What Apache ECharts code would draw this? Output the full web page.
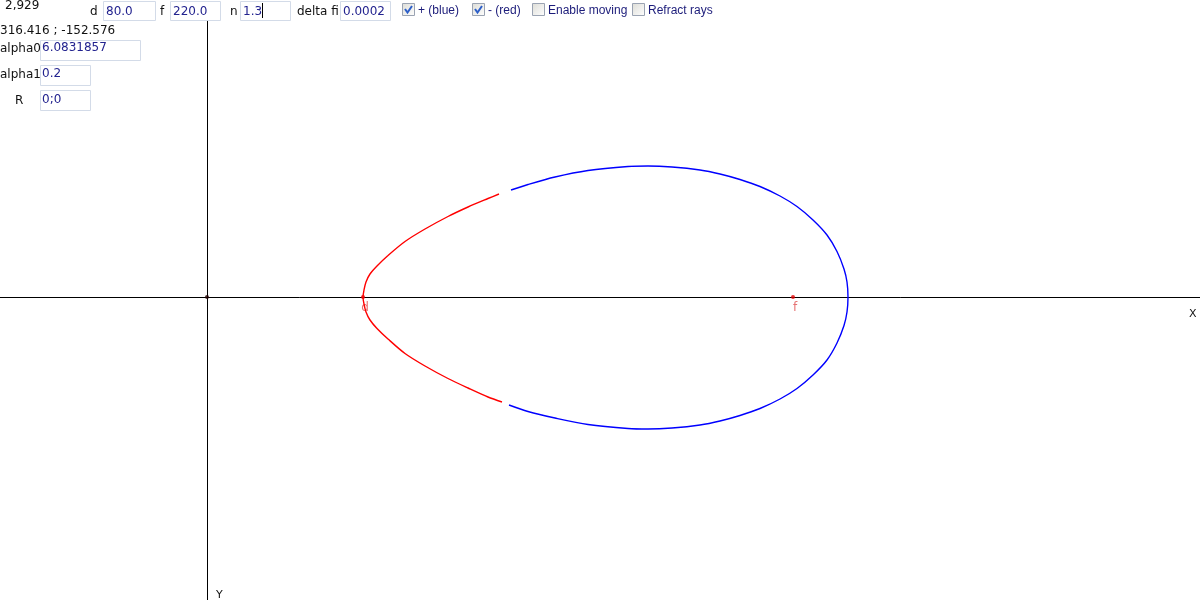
<!DOCTYPE html>
<html>
<head>
<meta charset="utf-8">
<script src="https://cdn.jsdelivr.net/npm/echarts@6/dist/echarts.min.js"></script>
<style>
  html, body { margin: 0; padding: 0; background: #fff; }
  #chart { width: 1200px; height: 600px; }
</style>
</head>
<body>
<div id="chart"></div>
<script>
// curve points (x, y in screen pixels from the origin, y up)
// "-" branch, drawn red: from the upper break, through the d vertex, to the lower break
const redBranch = [
  [292, 103], [281, 98.5], [261, 90], [241, 80.5], [218, 68], [198, 55.5], [181, 41.5],
  [170, 31], [163, 23], [159, 15], [157, 7], [156, 0], [157, -7], [159, -15], [163, -23],
  [170, -31.5], [181, -42], [198, -56.5], [218, -69], [241, -81.5], [261, -91],
  [281, -100], [295, -105]
]
// "+" branch, drawn blue: from the upper break, over the top, round the right vertex, back
const blueBranch = [
  [304, 107], [321, 112.5], [348, 120], [381, 126.5], [421, 130.5], [441, 131], [465, 130],
  [493, 127], [513, 123], [533, 117.5], [553, 110.5], [573, 101], [590, 90.5], [606, 77],
  [620, 62], [630, 45.5], [637, 28], [640, 15], [641, 0], [640, -15], [637, -28.5],
  [630, -46], [620, -63], [606, -78], [590, -91.5], [573, -102], [553, -111.5], [533, -118.5],
  [513, -124], [493, -128], [465, -131], [441, -132], [421, -131.5], [381, -127.5],
  [348, -121], [321, -114.5], [302, -108]
]
const focalNames = ['d', 'f']
const focalX = [156, 586]

// control panel values
const topFields = [['d', '80.0'], ['f', '220.0'], ['n', '1.3'], ['delta fi', '0.0002']]
const checkboxes = [['+ (blue)', true], ['- (red)', true], ['Enable moving', false], ['Refract rays', false]]
const sideFields = [['alpha0', '6.0831857'], ['alpha1', '0.2'], ['R', '0;0']]
const zoomText = '2,929'
const cursorText = '316.416 ; -152.576'

const labelFont = 'DejaVu Sans'
const fieldColor = '#23238f'
const boxBorder = '#d3dbe8'

function text(x, y, str, opts) {
  return {
    type: 'text', x, y, z: 20,
    style: Object.assign({
      text: str, fill: '#111', font: '12px "' + labelFont + '"',
      verticalAlign: 'middle', align: 'left'
    }, opts || {})
  }
}
function box(x, y, w, h) {
  return { type: 'rect', z: 15, shape: { x: x + 0.5, y: y + 0.5, width: w, height: h },
    style: { fill: '#fff', stroke: boxBorder, lineWidth: 1 } }
}
function checkbox(x, y, checked) {
  const els = [{ type: 'rect', z: 15, shape: { x: x + 0.5, y: y + 0.5, width: 12, height: 12 },
    style: { fill: new echarts.graphic.LinearGradient(0, 0, 1, 1, [
      { offset: 0, color: '#dcdcd6' }, { offset: 1, color: '#ffffff' }]), stroke: '#9aa3b2', lineWidth: 1 } }]
  if (checked) {
    els.push({ type: 'polyline', z: 16, shape: { points: [[x + 3, y + 6], [x + 5.5, y + 9.5], [x + 10, y + 3]] },
      style: { stroke: '#2d5fc8', lineWidth: 2, fill: null } })
  }
  return els
}

const graphics = []
// white strip behind the top controls
graphics.push({ type: 'rect', z: 10, shape: { x: 0, y: 0, width: 1200, height: 21 }, style: { fill: '#fff' } })
graphics.push(text(5, 6, zoomText))

const topLayout = [[90, 103, 52], [160, 170, 50], [230, 240, 50], [297, 340, 50]]
topFields.forEach((f, i) => {
  const [lx, bx, bw] = topLayout[i]
  graphics.push(text(lx, 11.5, f[0]))
  graphics.push(box(bx, 1, bw, 19))
  graphics.push(text(bx + 3, 11.5, f[1], { fill: fieldColor }))
})
// text caret in the n field
graphics.push({ type: 'line', z: 20, shape: { x1: 262.5, y1: 3, x2: 262.5, y2: 18 }, style: { stroke: '#000', lineWidth: 1 } })

const checkX = [402, 472, 532, 632]
checkboxes.forEach((c, i) => {
  checkbox(checkX[i], 3, c[1]).forEach(e => graphics.push(e))
  graphics.push(text(checkX[i] + 16, 10.5, c[0], { fill: '#1c1c7a', font: '12px "Liberation Sans"' }))
})

graphics.push(text(0, 30.5, cursorText))
const sideLayout = [[0, 40, 100, 48.5], [0, 65, 50, 75], [15, 90, 50, 101]]
sideFields.forEach((f, i) => {
  const [lx, by, bw, ty] = sideLayout[i]
  graphics.push(text(lx, ty, f[0]))
  graphics.push(box(40, by, bw, 20))
  graphics.push(text(42, ty - 1, f[1], { fill: fieldColor }))
})

graphics.push(text(1189, 314, 'X', { font: '11px "' + labelFont + '"' }))
graphics.push(text(216, 595, 'Y', { font: '11px "' + labelFont + '"' }))

const chart = echarts.init(document.getElementById('chart'))
chart.setOption({
  animation: false,
  backgroundColor: '#fff',
  grid: { left: 0, right: 0, top: 20, bottom: 0 },
  xAxis: {
    type: 'value', min: -207, max: 993,
    axisLine: { onZero: true, lineStyle: { color: '#000', width: 1 } },
    axisTick: { show: false }, axisLabel: { show: false }, splitLine: { show: false }
  },
  yAxis: {
    type: 'value', min: -303, max: 277,
    axisLine: { show: true, onZero: true, lineStyle: { color: '#000', width: 1 } },
    axisTick: { show: false }, axisLabel: { show: false }, splitLine: { show: false }
  },
  series: [
    {
      name: '- (red)', type: 'line', data: redBranch, smooth: 0.3, showSymbol: false,
      lineStyle: { color: '#ff0000', width: 1.4 }
    },
    {
      name: '+ (blue)', type: 'line', data: blueBranch, smooth: 0.3, showSymbol: false,
      lineStyle: { color: '#0000ff', width: 1.4 }
    },
    {
      type: 'scatter', symbolSize: 4, itemStyle: { color: '#e00000' },
      data: focalX.map((x, i) => ({ value: [x, 0], name: focalNames[i] })),
      label: {
        show: true, formatter: p => p.name, position: 'bottom', distance: 3, offset: [2, 0],
        color: '#e05050', fontSize: 12, fontFamily: labelFont
      }
    },
    {
      type: 'scatter', symbolSize: 4, itemStyle: { color: '#200000' }, data: [[0, 0]]
    }
  ],
  graphic: graphics
})
</script>
</body>
</html>
